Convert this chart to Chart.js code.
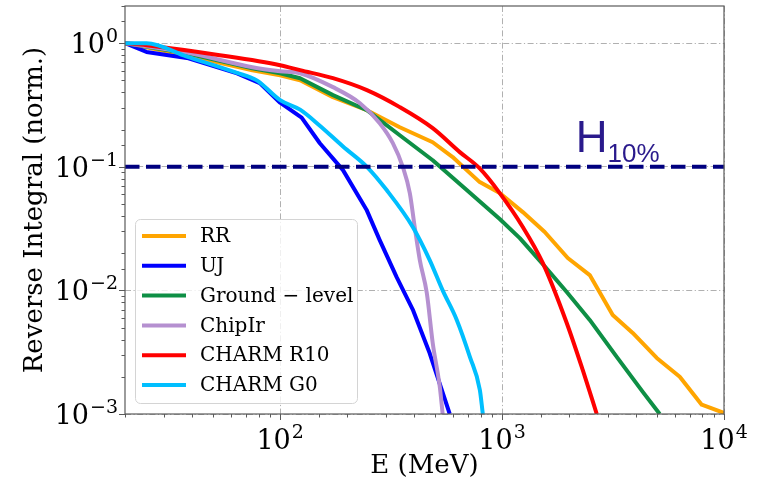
<!DOCTYPE html>
<html><head><meta charset="utf-8">
<script src="https://cdn.jsdelivr.net/npm/chart.js@4/dist/chart.umd.min.js"></script>
<style>html,body{margin:0;padding:0;background:#fff;}</style>
</head><body>
<canvas id="c" width="757" height="480"></canvas>
<script>
// ---- data ----
const seriesLabels = ['RR', 'UJ', 'Ground \u2212 level', 'ChipIr', 'CHARM R10', 'CHARM G0'];
const seriesColors = ['#FFA500', '#0000FF', '#0E8F45', '#B590D0', '#FF0000', '#00BFFF'];

const rrE = [20, 38, 75, 100, 123, 173, 246, 346, 487, 599, 693, 793, 976, 1240, 1557, 1977, 2483, 3152, 3879, 4977, 6318, 7934, 10000];
const rrI = [1, 0.80, 0.605, 0.551, 0.502, 0.366, 0.287, 0.209, 0.158, 0.12, 0.094, 0.0752, 0.0613, 0.043, 0.0297, 0.0183, 0.0133, 0.00632, 0.00453, 0.00284, 0.002, 0.00119, 0.00102];

const ujE = [20, 25, 38, 64, 81, 100, 125, 151, 192, 245, 281, 335, 396, 472, 581];
const ujI = [1, 0.85, 0.76, 0.57, 0.475, 0.33, 0.25, 0.155, 0.094, 0.045, 0.0255, 0.0128, 0.007, 0.0031, 0.001];

const groundE = [20, 38, 75, 100, 123, 173, 246, 346, 487, 693, 976, 1202, 1509, 1956, 2483, 3286, 4305, 5133];
const groundI = [1, 0.83, 0.628, 0.572, 0.521, 0.38, 0.287, 0.18, 0.113, 0.0648, 0.0378, 0.0265, 0.0167, 0.0097, 0.00577, 0.0029, 0.00151, 0.001];

const chipE = [20, 38, 75, 100, 123, 173, 229, 281, 322, 357, 384, 404, 426, 458, 487, 524, 540];
const chipI = [1, 0.84, 0.64, 0.594, 0.572, 0.441, 0.327, 0.2255, 0.1555, 0.1, 0.0613, 0.0326, 0.0176, 0.00952, 0.00376, 0.00166, 0.001];

const r10E = [20, 25, 53.5, 100, 123, 173, 246, 346, 487, 645, 793, 976, 1240, 1525, 1956, 2309, 2671];
const r10I = [1, 0.963, 0.8, 0.664, 0.605, 0.521, 0.417, 0.304, 0.2055, 0.1315, 0.097, 0.0613, 0.0326, 0.0167, 0.00545, 0.00227, 0.001];

const g0E = [20, 25, 38, 64, 78.5, 100, 123, 151, 192, 246, 302, 396, 472, 540, 625, 716, 794, 819];
const g0I = [1, 1, 0.78, 0.575, 0.5, 0.346, 0.29, 0.215, 0.146, 0.1, 0.0648, 0.0326, 0.0176, 0.01, 0.00577, 0.0029, 0.00157, 0.001];

const thresholdE = [20, 10000];
const thresholdI = [0.1, 0.1];

const xRange = [20, 10000];
const yRange = [0.001, 2];
const xTickValues = [100, 1000, 10000];
const yTickValues = [0.001, 0.01, 0.1, 1];
const xTitle = 'E (MeV)';
const yTitle = 'Reverse Integral (norm.)';
const annotationMain = 'H';
const annotationSub = '10%';
const annotationAt = { E: 2216, I: 0.1315 };

const seriesE = [rrE, ujE, groundE, chipE, r10E, g0E];
const seriesI = [rrI, ujI, groundI, chipI, r10I, g0I];
const smoothSeries = [false, false, false, true, true, true];

// ---- helpers ----
function isPow10(v) { const l = Math.log10(v); return Math.abs(l - Math.round(l)) < 1e-9; }
function expText(v) { const e = Math.round(Math.log10(v)); return (e < 0 ? '\u2212' : '') + Math.abs(e); }
function pts(xs, ys) { return xs.map((x, i) => ({ x: x, y: ys[i] })); }

const datasets = seriesLabels.map((lab, i) => ({
  label: lab,
  data: pts(seriesE[i], seriesI[i]),
  borderColor: seriesColors[i],
  backgroundColor: seriesColors[i],
  borderWidth: 4,
  pointRadius: 0,
  fill: false,
  borderJoinStyle: 'round',
  cubicInterpolationMode: smoothSeries[i] ? 'monotone' : 'default',
  tension: 0,
  order: seriesLabels.length - i,
  isSeries: true
}));
datasets.push({
  label: 'H10%',
  data: pts(thresholdE, thresholdI),
  borderColor: '#00007F',
  borderWidth: 4,
  borderDash: [14.5, 6.5],
  pointRadius: 0,
  fill: false,
  order: 0,
  isSeries: false
});

const FRAME = '#5a5a5a';
const SERIF = "'DejaVu Serif', serif";
const BASE_FONT = '27px ' + SERIF;
const EXP_FONT = '19px ' + SERIF;

function drawPowLabel(ctx, v, xAnchor, baseline, align) {
  ctx.font = BASE_FONT;
  const wb = ctx.measureText('10').width;
  ctx.font = EXP_FONT;
  const et = expText(v);
  const we = ctx.measureText(et).width;
  const total = wb + 1 + we;
  let x0 = align === 'right' ? xAnchor - total : xAnchor - total / 2;
  ctx.font = BASE_FONT;
  ctx.fillText('10', x0, baseline);
  ctx.font = EXP_FONT;
  ctx.fillText(et, x0 + wb + 1, baseline - 11);
}

const decor = {
  id: 'decor',
  afterDraw(chart) {
    const { ctx, chartArea: a, scales: { x, y } } = chart;
    ctx.save();
    // frame
    ctx.strokeStyle = FRAME; ctx.lineWidth = 1.2;
    ctx.strokeRect(a.left, a.top, a.right - a.left, a.bottom - a.top);
    // tick marks
    ctx.lineWidth = 1;
    ctx.beginPath();
    x.ticks.forEach(t => {
      const px = Math.round(x.getPixelForValue(t.value)) + 0.5;
      const len = isPow10(t.value) ? 6 : 3.5;
      ctx.moveTo(px, a.bottom); ctx.lineTo(px, a.bottom + len);
    });
    y.ticks.forEach(t => {
      const py = Math.round(y.getPixelForValue(t.value)) + 0.5;
      const len = isPow10(t.value) ? 6 : 3.5;
      ctx.moveTo(a.left, py); ctx.lineTo(a.left - len, py);
    });
    ctx.stroke();

    // tick labels
    ctx.fillStyle = '#000';
    ctx.textBaseline = 'alphabetic';
    ctx.textAlign = 'left';
    xTickValues.forEach(v => drawPowLabel(ctx, v, x.getPixelForValue(v), a.bottom + 35, 'center'));
    yTickValues.forEach(v => drawPowLabel(ctx, v, a.left - 7, y.getPixelForValue(v) + 10, 'right'));

    // annotation
    const ax = x.getPixelForValue(annotationAt.E);
    const ay = y.getPixelForValue(annotationAt.I);
    ctx.fillStyle = '#2a1a8c';
    ctx.font = "44px 'Liberation Sans', Arial, sans-serif";
    ctx.fillText(annotationMain, ax - 3, ay);
    const w = ctx.measureText(annotationMain).width;
    ctx.font = "26px 'Liberation Sans', Arial, sans-serif";
    ctx.fillText(annotationSub, ax - 3 + w, ay + 10);

    // legend
    const L = { x: 135.5, y: 219.5, w: 222, h: 184, r: 5 };
    ctx.beginPath();
    ctx.roundRect(L.x, L.y, L.w, L.h, L.r);
    ctx.fillStyle = 'rgba(255,255,255,0.8)';
    ctx.fill();
    ctx.strokeStyle = '#d4d4d4'; ctx.lineWidth = 1;
    ctx.stroke();
    const items = chart.data.datasets.filter(d => d.isSeries);
    ctx.font = '20px ' + SERIF;
    ctx.textBaseline = 'middle';
    items.forEach((d, i) => {
      const yy = 236 + i * 29.8;
      ctx.beginPath();
      ctx.strokeStyle = d.borderColor; ctx.lineWidth = 4; ctx.lineCap = 'butt';
      ctx.moveTo(142, yy); ctx.lineTo(186, yy); ctx.stroke();
      ctx.fillStyle = '#000';
      ctx.fillText(d.label, 200, yy + 1);
    });
    ctx.restore();
  }
};

new Chart(document.getElementById('c'), {
  type: 'line',
  data: { datasets: datasets },
  options: {
    responsive: false,
    animation: false,
    devicePixelRatio: 1,
    layout: { padding: { top: 6, right: 33, left: 0, bottom: 0 } },
    plugins: { legend: { display: false }, tooltip: { enabled: false } },
    scales: {
      x: {
        type: 'logarithmic', min: xRange[0], max: xRange[1],
        afterFit(s) { s.height = 66; s.paddingLeft = 0; s.paddingRight = 0; },
        grid: { color: c => (c.tick && isPow10(c.tick.value)) ? '#b0b0b0' : 'rgba(0,0,0,0)', lineWidth: 1, drawTicks: false },
        border: { display: false, dash: [6, 2.5, 1.2, 2.5] },
        ticks: { display: false, autoSkip: false },
        title: { display: true, text: xTitle, color: '#000',
          font: { family: SERIF, size: 26, lineHeight: 1 }, padding: { top: 0, bottom: 1 } }
      },
      y: {
        type: 'logarithmic', min: yRange[0], max: yRange[1],
        afterFit(s) { s.width = 125; s.paddingTop = 0; s.paddingBottom = 0; },
        grid: { color: c => (c.tick && isPow10(c.tick.value)) ? '#b0b0b0' : 'rgba(0,0,0,0)', lineWidth: 1, drawTicks: false },
        border: { display: false, dash: [6, 2.5, 1.2, 2.5] },
        ticks: { display: false, autoSkip: false },
        title: { display: true, text: yTitle, color: '#000',
          font: { family: SERIF, size: 26, lineHeight: 1 }, padding: { top: 22, bottom: 0 } }
      }
    }
  },
  plugins: [decor]
});
</script>
</body></html>
